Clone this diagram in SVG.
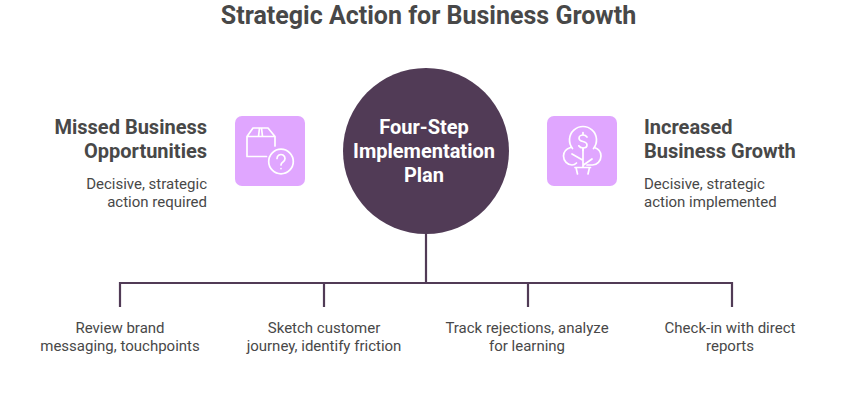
<svg xmlns="http://www.w3.org/2000/svg" width="858" height="415" viewBox="0 0 858 415">
<style>
text{font-family:Roboto,"Liberation Sans",sans-serif;fill:#484848}
.t{font-size:25px;font-weight:700;text-anchor:middle}
.h{font-size:20px;font-weight:700}
.d{font-size:15px}
.e{text-anchor:end}
.m{text-anchor:middle}
.c{font-size:20px;font-weight:700;fill:#fff;text-anchor:middle}
.tile{fill:#e0a6ff}
.ic{fill:none;stroke:#fff;stroke-width:1.7;stroke-linecap:round;stroke-linejoin:round}
.ln{fill:none;stroke:#513b56;stroke-width:2.2}
</style>
<rect width="858" height="415" fill="#fff"/>
<text class="t" x="428.500" y="24">Strategic Action for Business Growth</text>
<g id="connectors">
<path class="ln" d="M426 234V283M120 307V283H732V307M324 283V307M528 283V307"/>
</g>
<g id="center"><circle cx="426" cy="151" r="83" fill="#513b56"/>
<text class="c" x="424" y="134">Four-Step</text>
<text class="c" x="424" y="158">Implementation</text>
<text class="c" x="424" y="182">Plan</text></g>
<g id="left">
<text class="h e" x="207" y="134">Missed Business</text>
<text class="h e" x="207" y="158">Opportunities</text>
<text class="d e" x="207" y="189">Decisive, strategic</text>
<text class="d e" x="207" y="207">action required</text>
</g>
<g id="left-icon"><rect class="tile" x="235" y="116" width="70" height="70" rx="7"/>
<g class="ic"><path d="M266.500 156.500H247V136.500L253 128H268L275 136.500V146M247 136.500H275M258.500 136.500L259.500 128M261.500 128L262.500 136.500"/><circle cx="281" cy="161.500" r="12.300"/><path d="M277 158.500A4 4 0 1 1 283 162C281.500 163 281 163.500 281 165M281 168.500V168.600"/></g></g>
<g id="right-icon"><rect class="tile" x="547" y="116" width="70" height="70" rx="7"/>
<g class="ic"><path d="M572.500 148.500A13.500 13.500 0 1 1 593.500 148.500M570.500 147.500C566 149 563.500 152 563.500 156C563.500 161 567.500 165 572 165C574 165 575.500 164 576.500 163M594.500 147.500C599 149 601 152 601 156C601 161 597 165 592.500 165H587M583 148V167M582.500 160L572 154M583.500 165L592 159M575 167.500H590.500M576 167.500L577.500 174M589.500 167.500L588 174"/><path d="M587 137C586 135.500 584.500 135 583 135C581 135 579 136.200 579 138.200C579 140.200 581 141 583 141.500C585 142 587 143 587 145C587 147 585 148 583 148C581 148 579.500 147 578.800 145.800M583 132.500V135M583 148V150.500"/></g></g>
<g id="right">
<text class="h" x="644" y="134">Increased</text>
<text class="h" x="644" y="158">Business Growth</text>
<text class="d" x="644" y="189">Decisive, strategic</text>
<text class="d" x="644" y="207">action implemented</text>
</g>
<g id="step1"><text class="d m" x="120" y="333">Review brand</text><text class="d m" x="120" y="351">messaging, touchpoints</text></g>
<g id="step2"><text class="d m" x="324" y="333">Sketch customer</text><text class="d m" x="324" y="351">journey, identify friction</text></g>
<g id="step3"><text class="d m" x="527" y="333">Track rejections, analyze</text><text class="d m" x="527" y="351">for learning</text></g>
<g id="step4"><text class="d m" x="730" y="333">Check-in with direct</text><text class="d m" x="730" y="351">reports</text></g>
</svg>
